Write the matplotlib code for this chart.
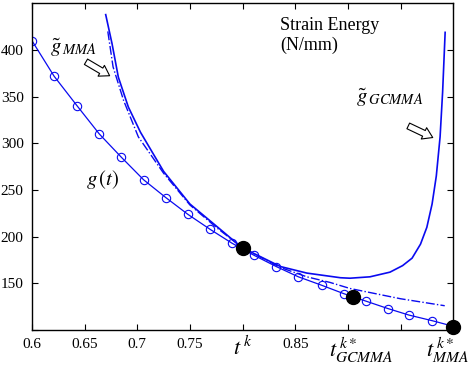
import matplotlib
matplotlib.use('Agg')
import matplotlib.pyplot as plt

plt.rcParams['font.family'] = ['Liberation Serif', 'DejaVu Serif']
plt.rcParams['mathtext.fontset'] = 'stix'

# g(t) sampled points
t_g = [0.6, 0.621, 0.643, 0.664, 0.685, 0.706, 0.727, 0.748, 0.769, 0.790,
       0.811, 0.832, 0.853, 0.875, 0.896, 0.917, 0.938, 0.958, 0.980, 1.0]
g_vals = [410, 372, 340, 310, 285, 261, 242, 224, 208, 193,
          180, 168, 157, 148, 139, 131, 123, 116, 110, 104]

# GCMMA approximation (solid)
t_gc = [0.670, 0.676, 0.682, 0.6915, 0.703, 0.725, 0.750, 0.7755, 0.7945, 0.800,
        0.836, 0.861, 0.893, 0.902, 0.921, 0.940, 0.952, 0.961, 0.969, 0.975,
        0.980, 0.984, 0.9876, 0.990, 0.9924]
g_gc = [438, 407, 371, 339, 312, 270, 235, 211, 193, 188,
        168, 161, 156, 155.5, 157, 162, 169, 177, 192, 210,
        235, 265, 307, 355, 419]

# MMA approximation (dash-dot)
t_mma = [0.672, 0.677, 0.687, 0.701, 0.725, 0.750, 0.775, 0.800, 0.836, 0.861,
         0.883, 0.902, 0.950, 0.992]
g_mma = [420, 382, 346, 307, 268, 234, 210, 188, 167, 157,
         151, 144.5, 133.5, 126]

# iterates (filled dots)
t_pts = [0.8, 0.905, 1.0]
g_pts = [188, 135, 103]

xticks = [0.6, 0.65, 0.7, 0.75, 0.8, 0.85, 0.9, 0.95, 1.0]
xticklabels = ['0.6', '0.65', '0.7', '0.75', '', '0.85', '', '', '']
yticks = [100, 150, 200, 250, 300, 350, 400]
yticklabels = ['', '150', '200', '250', '300', '350', '400']

blue = '#0a0af0'

fig = plt.figure(figsize=(4.74, 3.69), dpi=100)
ax = fig.add_axes([0.0675, 0.1057, 0.8885, 0.885])

ax.plot(t_g, g_vals, color=blue, lw=0.9, marker='o', ms=6, mfc='none', mec=blue, mew=0.8)
ax.plot(t_gc, g_gc, color=blue, lw=1.2, linestyle='-')
ax.plot(t_mma, g_mma, color=blue, lw=1.0, linestyle='-.')
ax.plot(t_pts, g_pts, 'o', color='black', ms=10, zorder=5, clip_on=False)

ax.set_xlim(0.6, 1.0)
ax.set_ylim(100, 450)
ax.set_xticks(xticks)
ax.set_xticklabels(xticklabels)
ax.set_yticks(yticks)
ax.set_yticklabels(yticklabels)
ax.tick_params(direction='in', top=True, right=True, labelsize=11, length=4, width=0.8, pad=6)
for s in ax.spines.values():
    s.set_linewidth(1.0)

# annotations
ax.text(0.836, 435, 'Strain Energy\n(N/mm)', fontsize=13, va='top', ha='left', linespacing=1.15)
ax.text(0.617, 397, r'$\tilde{g}_{\,MMA}$', fontsize=15)
ax.text(0.908, 343, r'$\tilde{g}_{\,GCMMA}$', fontsize=15)
ax.text(0.651, 255, r'$g\,(t)$', fontsize=15)

arrow = dict(arrowstyle='simple,head_width=0.9,head_length=0.7,tail_width=0.45',
             fc='white', ec='black', lw=0.8)
ax.annotate('', xy=(0.676, 371), xytext=(0.649, 389), arrowprops=arrow)
ax.annotate('', xy=(0.983, 305), xytext=(0.955, 320), arrowprops=arrow)

# special x labels
ax.text(0.8, 80, r'$t^{\,k}$', fontsize=16, ha='center', va='center')
ax.text(0.913, 78, r'$t^{\,k*}_{GCMMA}$', fontsize=16, ha='center', va='center')
ax.text(0.995, 78, r'$t^{\,k*}_{MMA}$', fontsize=16, ha='center', va='center')

fig.savefig('out.png', dpi=100)
